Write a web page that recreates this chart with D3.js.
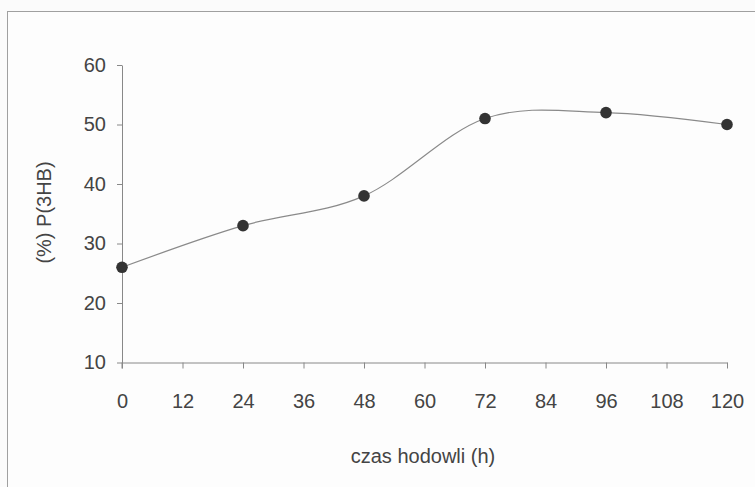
<!DOCTYPE html>
<html><head><meta charset="utf-8">
<script src="https://cdn.jsdelivr.net/npm/d3@7"></script>
<style>
html,body{margin:0;padding:0;background:#fbfbfb;}
svg{display:block;font-family:"Liberation Sans",Arial,sans-serif;}
</style></head>
<body><svg id="c" width="755" height="487"></svg>
<script>
const hours = [0, 24, 48, 72, 96, 120];
const p3hb = [26, 33, 38, 51, 52, 50];
const xTicks = [0, 12, 24, 36, 48, 60, 72, 84, 96, 108, 120];
const yTicks = [10, 20, 30, 40, 50, 60];
const xTitle = "czas hodowli (h)";
const yTitle = "(%) P(3HB)";

const svg = d3.select("#c");
const textCol = "#444";
const axisCol = "#888";
const fs = "20px";

svg.append("rect").attr("x", 7.5).attr("y", 11.5).attr("width", 760).attr("height", 490)
  .attr("fill", "#fdfdfd").attr("stroke", "#a0a0a0").attr("stroke-width", 1);

const x = d3.scaleLinear().domain([0, 120]).range([122, 727]);
const y = d3.scaleLinear().domain([10, 60]).range([362.5, 65]);

const gx = svg.append("g").attr("transform", `translate(0,${y(10)})`)
  .call(d3.axisBottom(x).tickValues(xTicks).tickSize(6).tickSizeOuter(0).tickPadding(25));
const gy = svg.append("g").attr("transform", `translate(${x(0)},0)`)
  .call(d3.axisLeft(y).tickValues(yTicks).tickSize(5).tickSizeOuter(0).tickPadding(11));
[gx, gy].forEach(g => {
  g.select(".domain").attr("stroke", axisCol).attr("stroke-width", 1);
  g.selectAll(".tick line").attr("stroke", axisCol).attr("stroke-width", 1);
  g.selectAll(".tick text").attr("fill", textCol).style("font-size", fs)
    .style("font-family", "'Liberation Sans', Arial, sans-serif");
});
svg.append("line").attr("x1", x(0)).attr("x2", x(0)).attr("y1", y(10)).attr("y2", y(10) + 6)
  .attr("stroke", axisCol);

svg.append("text").attr("x", 423).attr("y", 463).attr("text-anchor", "middle")
  .attr("fill", textCol).style("font-size", fs).text(xTitle);
svg.append("text").attr("transform", `translate(51,212.5) rotate(-90)`).attr("text-anchor", "middle")
  .attr("fill", textCol).style("font-size", fs).text(yTitle);

const pts = hours.map((h, i) => [h, p3hb[i]]);
const line = d3.line().x(d => x(d[0])).y(d => y(d[1])).curve(d3.curveCatmullRom.alpha(0));
svg.append("path").attr("d", line(pts)).attr("fill", "none").attr("stroke", "#8a8a8a").attr("stroke-width", 1.2);

svg.selectAll("circle.pt").data(pts).enter().append("circle").attr("class", "pt")
  .attr("cx", d => x(d[0])).attr("cy", d => y(d[1])).attr("r", 5.8).attr("fill", "#333");
</script></body></html>
